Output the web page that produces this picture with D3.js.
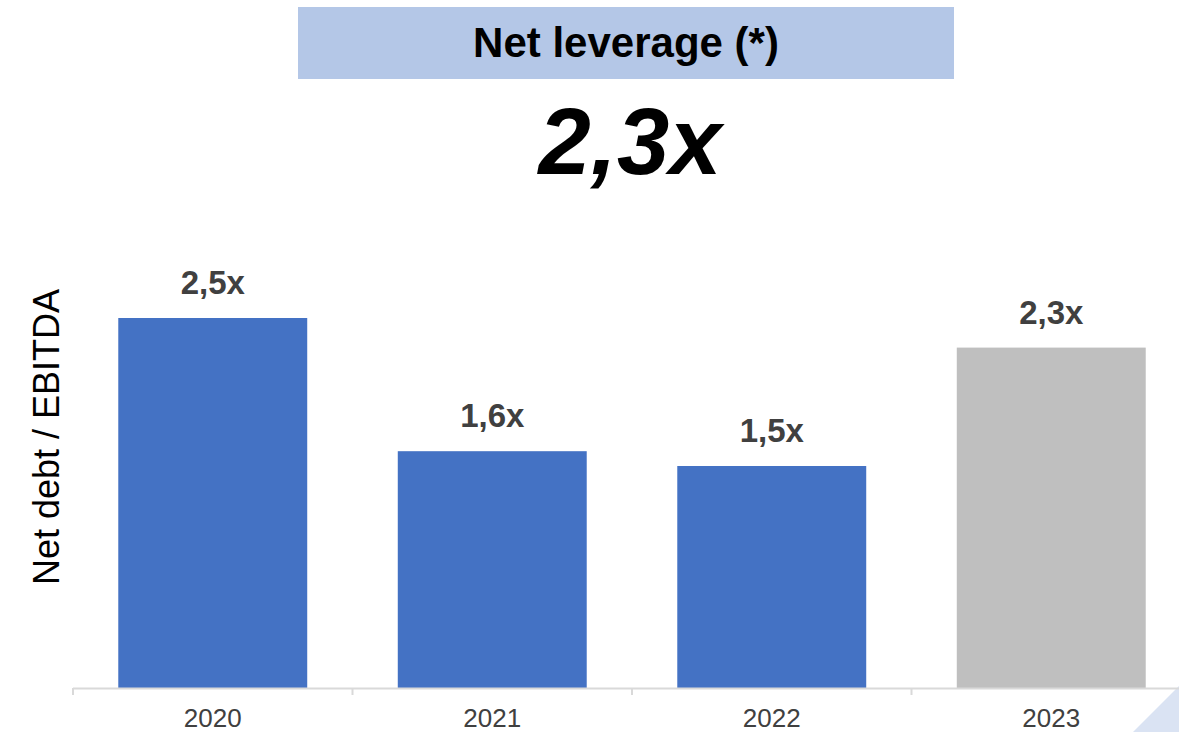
<!DOCTYPE html>
<html>
<head>
<meta charset="utf-8">
<script src="https://cdn.jsdelivr.net/npm/d3@7"></script>
<style>
  html, body { margin: 0; padding: 0; background: #ffffff; }
  svg { display: block; font-family: "Liberation Sans", Arial, sans-serif; }
</style>
</head>
<body>
<svg id="chart" width="1179" height="732"></svg>
<script>
// Net debt / EBITDA by year
const years = ["2020", "2021", "2022", "2023"];
const leverage = [2.5, 1.6, 1.5, 2.3];
const valueLabels = ["2,5x", "1,6x", "1,5x", "2,3x"];
const barColors = ["#4472c4", "#4472c4", "#4472c4", "#bfbfbf"];
const headline = "2,3x";
const titleText = "Net leverage (*)";
const yAxisTitle = "Net debt / EBITDA";

const svg = d3.select("#chart");
const W = 1179, H = 732;

// Headline banner
svg.append("rect")
  .attr("x", 298).attr("y", 7).attr("width", 656).attr("height", 72)
  .attr("fill", "#b4c7e7");
svg.append("text")
  .attr("x", 626).attr("y", 57)
  .attr("text-anchor", "middle")
  .attr("font-size", 42).attr("font-weight", "bold")
  .attr("fill", "#000")
  .text(titleText);
svg.append("text")
  .attr("x", 630).attr("y", 174)
  .attr("text-anchor", "middle")
  .attr("font-size", 94).attr("font-weight", "bold").attr("font-style", "italic")
  .attr("fill", "#000")
  .text(headline);

// Decorative corner triangle
svg.append("polygon")
  .attr("points", [[1133, 732], [1179, 686], [1179, 732]].map(p => p.join(",")).join(" "))
  .attr("fill", "#dae3f3");

// Scales
const x = d3.scaleBand()
  .domain(years)
  .range([73, 1191])
  .paddingInner(0.324)
  .paddingOuter(0.162);
const y = d3.scaleLinear()
  .domain([0, 2.5])
  .range([688, 318]);

// Bars
svg.append("g").selectAll("rect")
  .data(years)
  .join("rect")
  .attr("x", d => x(d))
  .attr("y", (d, i) => y(leverage[i]))
  .attr("width", x.bandwidth())
  .attr("height", (d, i) => y(0) - y(leverage[i]))
  .attr("fill", (d, i) => barColors[i]);

// Value labels
svg.append("g").selectAll("text")
  .data(years)
  .join("text")
  .attr("x", d => x(d) + x.bandwidth() / 2)
  .attr("y", (d, i) => y(leverage[i]) - 24)
  .attr("text-anchor", "middle")
  .attr("font-size", 33).attr("font-weight", "bold")
  .attr("fill", "#404040")
  .text((d, i) => valueLabels[i]);

// Category axis with ticks at band boundaries
const axisG = svg.append("g");
axisG.append("line")
  .attr("x1", 73).attr("x2", W)
  .attr("y1", y(0) + 0.5).attr("y2", y(0) + 0.5)
  .attr("stroke", "#d9d9d9").attr("stroke-width", 2);
const step = x.step();
const bounds = d3.range(years.length + 1).map(i => x.range()[0] + i * step);
axisG.selectAll("line.tick")
  .data(bounds)
  .join("line")
  .attr("class", "tick")
  .attr("x1", d => d).attr("x2", d => d)
  .attr("y1", y(0)).attr("y2", y(0) + 7)
  .attr("stroke", "#d9d9d9").attr("stroke-width", 2);
axisG.selectAll("text")
  .data(years)
  .join("text")
  .attr("x", d => x(d) + x.bandwidth() / 2)
  .attr("y", 727)
  .attr("text-anchor", "middle")
  .attr("font-size", 26)
  .attr("fill", "#404040")
  .text(d => d);

// Y axis title
svg.append("text")
  .attr("transform", "translate(59,437) rotate(-90)")
  .attr("text-anchor", "middle")
  .attr("font-size", 36)
  .attr("fill", "#000")
  .text(yAxisTitle);
</script>
</body>
</html>
